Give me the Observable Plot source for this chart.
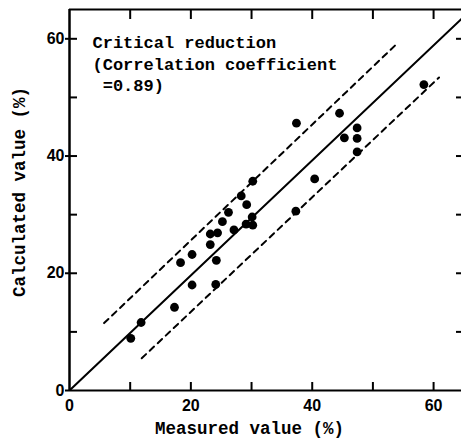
<!DOCTYPE html>
<html><head><meta charset="utf-8">
<script src="https://cdn.jsdelivr.net/npm/d3@7"></script>
<script src="https://cdn.jsdelivr.net/npm/@observablehq/plot@0.6"></script>
<style>body{margin:0;background:#fff}#chart svg{display:block}</style>
</head><body><div id="chart"></div>
<script>
// Measured value (%) and calculated value (%) for each specimen
const measured   = [10.1, 11.8, 17.3, 18.3, 20.2, 20.2, 23.2, 23.2, 24.1, 24.2, 24.4, 25.2, 26.2, 27.1, 29.1, 30.1, 30.2, 29.2, 28.3, 30.2, 37.3, 37.4, 40.4, 44.5, 45.3, 47.4, 47.4, 47.4, 58.4];
const calculated = [8.9, 11.6, 14.2, 21.8, 18.0, 23.2, 24.9, 26.7, 18.1, 22.2, 26.9, 28.8, 30.4, 27.4, 28.4, 29.6, 28.2, 31.7, 33.2, 35.7, 30.6, 45.6, 36.1, 47.3, 43.1, 44.8, 43.0, 40.7, 52.2];

// reference lines (endpoints)
const fitX   = [0, 64.7],  fitY   = [0, 63.5];
const upperX = [5.7, 54.2], upperY = [11.5, 59.4];
const lowerX = [11.9, 60.9], lowerY = [5.5, 53.4];

const xDomain = [0, 64.6];
const yDomain = [0, 65];
const majorTicks = [0, 20, 40, 60];
const allTicks = [10, 20, 30, 40, 50, 60];

const annotation = "Critical reduction\n(Correlation coefficient\n\u00a0=0.89)";
const xLabel = "Measured value (%)";
const yLabel = "Calculated value (%)";

const points = measured.map((m, i) => ({m, c: calculated[i]}));
const toPts = (xs, ys) => xs.map((x, i) => ({x, y: ys[i]}));

const mono = "'Liberation Mono', 'Courier New', monospace";
const sans = "'Liberation Sans', Arial, sans-serif";

const chart = Plot.plot({
  width: 461, height: 443,
  marginLeft: 69, marginRight: 0, marginTop: 9, marginBottom: 53,
  style: {background: "white", color: "black"},
  x: {domain: xDomain},
  y: {domain: yDomain},
  marks: [
    Plot.ruleX([xDomain[0]], {stroke: "black", strokeWidth: 2.5}),
    Plot.ruleY([yDomain[0], yDomain[1]], {stroke: "black", strokeWidth: 2}),
    // ticks
    Plot.axisX({anchor: "bottom", ticks: allTicks, tickSize: -8, strokeWidth: 2, tickFormat: () => "", label: null}),
    Plot.axisX({anchor: "bottom", ticks: majorTicks, tickSize: 0, tickPadding: 9, fontSize: 16, fontWeight: "bold", fontFamily: sans, label: null}),
    Plot.axisX({anchor: "top", ticks: allTicks, tickSize: -9, strokeWidth: 2, tickFormat: () => "", label: null}),
    Plot.axisY({anchor: "left", ticks: allTicks, tickSize: -8, strokeWidth: 2, tickFormat: () => "", label: null}),
    Plot.axisY({anchor: "left", ticks: majorTicks, tickSize: 4, tickPadding: 1, strokeWidth: 2, fontSize: 16, fontWeight: "bold", fontFamily: sans, label: null}),
    Plot.axisY({anchor: "right", ticks: allTicks, tickSize: -6, strokeWidth: 2, tickFormat: () => "", label: null}),
    // lines
    Plot.line(toPts(fitX, fitY), {x: "x", y: "y", stroke: "black", strokeWidth: 2, clip: true}),
    Plot.line(toPts(upperX, upperY), {x: "x", y: "y", stroke: "black", strokeWidth: 2, strokeDasharray: "6,5"}),
    Plot.line(toPts(lowerX, lowerY), {x: "x", y: "y", stroke: "black", strokeWidth: 2, strokeDasharray: "6,5"}),
    // points
    Plot.dot(points, {x: "m", y: "c", r: 4.4, fill: "black", stroke: "none"}),
    // annotation
    Plot.text([annotation], {frameAnchor: "top-left", dx: 23, dy: 24, lineAnchor: "top", textAnchor: "start", lineHeight: 1.24, fontFamily: mono, fontWeight: "bold", fontSize: 17, fill: "black"}),
    // axis labels
    Plot.text([xLabel], {frameAnchor: "bottom", dx: -16, dy: 43, textAnchor: "middle", fontFamily: mono, fontWeight: "bold", fontSize: 17.5, fill: "black"}),
    Plot.text([yLabel], {frameAnchor: "left", dx: -50, dy: -8, rotate: -90, textAnchor: "middle", lineAnchor: "middle", fontFamily: mono, fontWeight: "bold", fontSize: 17.5, fill: "black"})
  ]
});
document.getElementById("chart").append(chart);
</script>
</body></html>
